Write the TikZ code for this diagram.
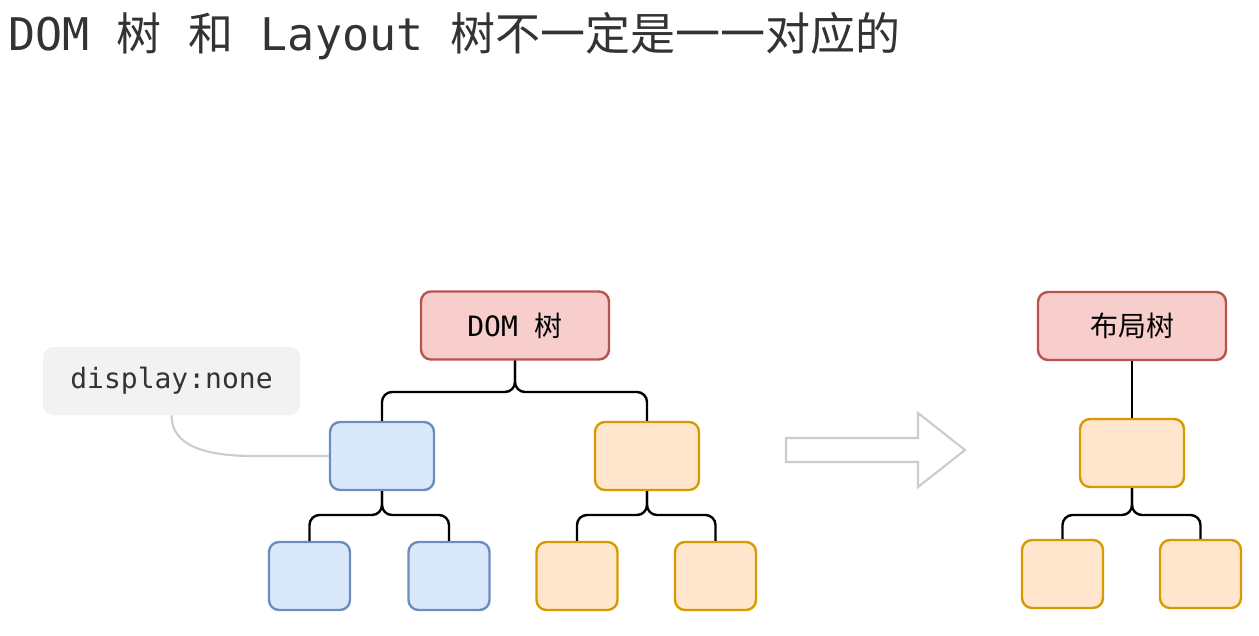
\documentclass[tikz,border=0pt]{standalone}
\usepackage{fontspec}
\setmainfont{DejaVu Sans Mono}
\newfontfamily\cjkfont{Noto Sans CJK SC}
\newcommand{\zh}[1]{{\cjkfont #1}}
\usetikzlibrary{positioning, calc}

\definecolor{redfill}{HTML}{F8CECC}
\definecolor{redline}{HTML}{B85450}
\definecolor{bluefill}{HTML}{DAE8FC}
\definecolor{blueline}{HTML}{6C8EBF}
\definecolor{orangefill}{HTML}{FFE6CC}
\definecolor{orangeline}{HTML}{D79B00}
\definecolor{notegray}{HTML}{F2F2F2}
\definecolor{softgray}{HTML}{CCCCCC}
\definecolor{titlegray}{HTML}{333333}

\tikzset{
    box/.style={draw, rounded corners=7.5pt, line width=1.8pt, minimum height=51pt, inner sep=0pt,
        font=\fontsize{21}{25}\selectfont},
    rootbox/.style={box, fill=redfill, draw=redline, minimum width=141pt},
    bluebox/.style={box, fill=bluefill, draw=blueline},
    orangebox/.style={box, fill=orangefill, draw=orangeline},
    midbox/.style={minimum width=78pt},
    leafbox/.style={minimum width=60.75pt},
    link/.style={line width=1.8pt, rounded corners=7.5pt},
    hollow/.style={draw=softgray, fill=white, line width=1.6pt, line join=miter},
}

\begin{document}
\begin{tikzpicture}[x=0.75pt, y=-0.75pt]
    \useasboundingbox (0,0) rectangle (1259,635);

    \node[anchor=base west, inner sep=0pt, text=titlegray, font=\fontsize{33.75}{40}\selectfont] (title) at (8,51)
        {DOM \zh{树} \zh{和} Layout \zh{树不一定是一一对应的}};

    % DOM tree
    \node[rootbox] (dom) at (515,325.5) {DOM \zh{树}};
    \node[bluebox, midbox] (bluemid) at (382,456) {};
    \node[orangebox, midbox] (orangemid) at (647,456) {};
    \node[bluebox, leafbox] (blueleft) at (309.5,576) {};
    \node[bluebox, leafbox] (blueright) at (449,576) {};
    \node[orangebox, leafbox] (orangeleft) at (577,576) {};
    \node[orangebox, leafbox] (orangeright) at (715.5,576) {};

    \draw[link] (dom.south) -- (dom.south |- 0,392) -| (bluemid.north);
    \draw[link] (dom.south) -- (dom.south |- 0,392) -| (orangemid.north);
    \draw[link] (bluemid.south) -- (bluemid.south |- 0,515) -| (blueleft.north);
    \draw[link] (bluemid.south) -- (bluemid.south |- 0,515) -| (blueright.north);
    \draw[link] (orangemid.south) -- (orangemid.south |- 0,515) -| (orangeleft.north);
    \draw[link] (orangemid.south) -- (orangemid.south |- 0,515) -| (orangeright.north);

    % note
    \node[fill=notegray, rounded corners=7.5pt, minimum width=192.75pt, minimum height=51pt, inner sep=0pt,
        text=titlegray, font=\fontsize{21}{25}\selectfont] (note) at (171.5,381) {display:none};
    \draw[softgray, line width=1.6pt] (note.south) .. controls +(0,30) and +(-50,0) .. ($(bluemid.west)+(-75,0)$) -- (bluemid.west);

    \draw[hollow] (786,438) -- (918,438) -- (918,413) -- (965,450) -- (918,487) -- (918,462) -- (786,462) -- cycle;

    % layout tree
    \node[rootbox] (layroot) at (1132,326) {\zh{布局树}};
    \node[orangebox, midbox] (laymid) at (1132,453) {};
    \node[orangebox, leafbox] (layleft) at (1062.5,574) {};
    \node[orangebox, leafbox] (layright) at (1200.5,574) {};

    \draw[link] (layroot.south) -- (laymid.north);
    \draw[link] (laymid.south) -- (laymid.south |- 0,515) -| (layleft.north);
    \draw[link] (laymid.south) -- (laymid.south |- 0,515) -| (layright.north);
\end{tikzpicture}
\end{document}
